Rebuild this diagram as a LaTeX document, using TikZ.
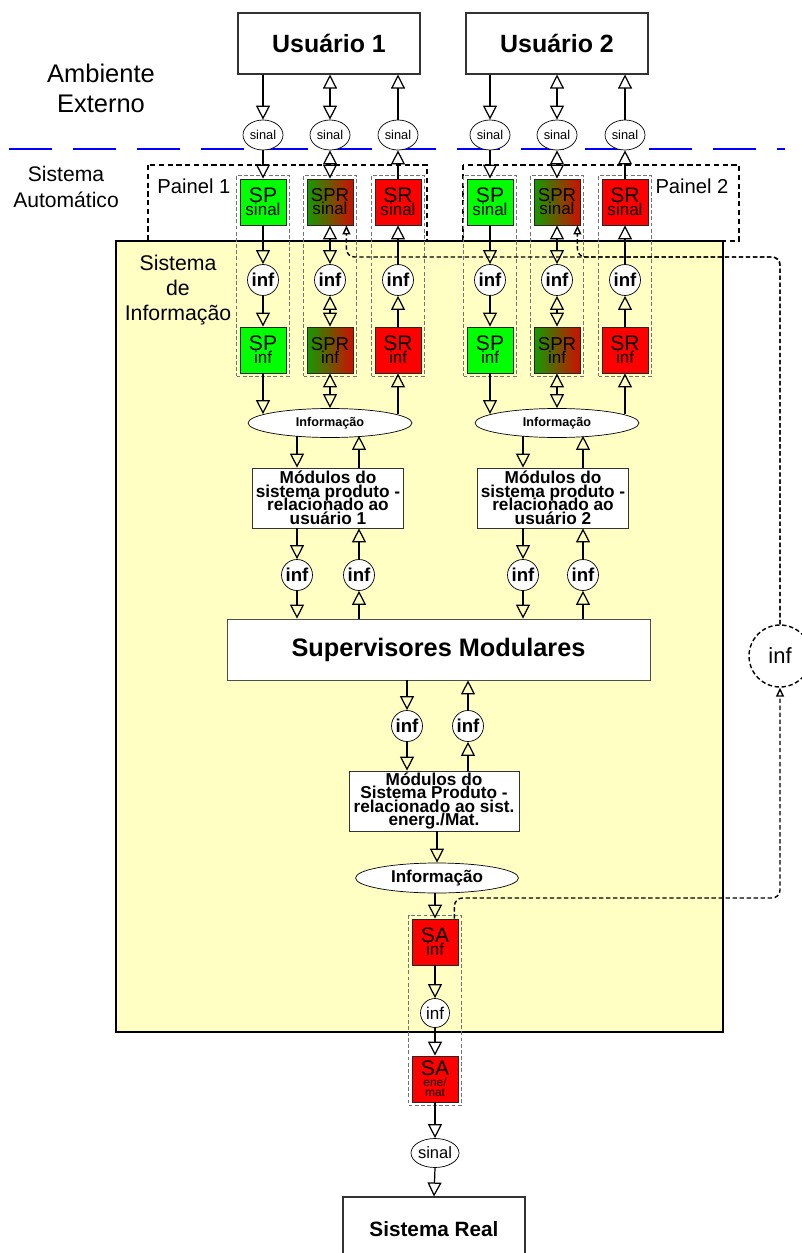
\documentclass[tikz,border=0pt]{standalone}
\usepackage{fontspec}
\setmainfont{Liberation Sans}
\usepackage{tikz}
\usetikzlibrary{arrows.meta, shapes.geometric, fit, calc}
\definecolor{SigGreen} {RGB}{0,  255,   0}
\definecolor{SigRed}   {RGB}{255,  0,   0}
\definecolor{MixGreen} {RGB}{20, 155,   0}
\definecolor{MixRed}   {RGB}{205, 15,   0}
\definecolor{InfoYellow}{RGB}{255,255,195}
\definecolor{LineBlue} {RGB}{0,    0, 255}

\newcommand{\sqlabel}[2]{#1\\{\fontsize{9.7}{7.4}\selectfont #2}}
\newcommand{\tightlines}{\lineskiplimit=-10pt\relax}

\tikzset{
  conn/.style={line width=0.7pt},
  user/.style={draw=black!80, line width=0.6pt, fill=white, minimum width=3.64cm,
    minimum height=1.22cm, inner sep=0pt, font=\fontsize{14.2}{16}\selectfont\bfseries},
  sig/.style={draw, ellipse, fill=white, inner sep=0pt, minimum width=0.8cm,
    minimum height=0.6cm, font=\fontsize{7.3}{8}\selectfont},
  sq/.style={draw=black!85, line width=0.5pt, minimum width=0.92cm, minimum height=0.92cm,
    inner sep=0pt, align=center, font=\fontsize{12}{7.4}\selectfont},
  sqmix/.style={sq, left color=MixGreen, right color=MixRed, font=\fontsize{10.6}{7.4}\selectfont},
  infb/.style={draw, circle, fill=white, minimum size=0.62cm, inner sep=0pt,
    font=\fontsize{10.6}{11}\selectfont\bfseries},
  infoel/.style={draw, ellipse, fill=white, inner sep=0pt, minimum width=3.28cm,
    minimum height=0.58cm, font=\fontsize{7.2}{8}\selectfont\bfseries},
  module/.style={draw=black!80, fill=white, minimum width=3.02cm, minimum height=1.2cm,
    inner sep=0pt, align=center, font=\fontsize{9.8}{7.7}\selectfont\bfseries\tightlines},
  colbox/.style={draw=black!55, line width=0.6pt, dash pattern=on 2.2pt off 1.3pt, inner sep=0.06cm},
  panel/.style={line width=0.8pt, dash pattern=on 3pt off 2pt},
  feedback/.style={line width=0.8pt, dash pattern=on 2.5pt off 1.5pt, rounded corners=0.16cm,
    -{Triangle[open, length=0.18cm, width=0.16cm]}},
  lbl/.style={inner sep=0pt, align=center}
}

\begin{document}
\begin{tikzpicture}[x=0.02cm, y=-0.02cm, >={Triangle[open, length=0.28cm, width=0.28cm]}]
  \useasboundingbox (0,0) rectangle (801,1253);

  % sistema de informacao
  \draw[fill=InfoYellow, line width=0.7pt] (116,241) rectangle (723,1032);
  \node[lbl, font=\fontsize{12.1}{14.2}\selectfont] (infLbl) at (178,290) {Sistema\\de\\Informação};

  % fronteira externa
  \draw[LineBlue, line width=1.7pt, dash pattern=on 0.86cm off 0.42cm] (9,149) -- (785,149);
  \node[lbl, font=\fontsize{14.5}{17}\selectfont] (ambLbl) at (101,88) {Ambiente\\Externo};
  \node[lbl, font=\fontsize{12}{14.7}\selectfont] (autoLbl) at (66,187) {Sistema\\Automático};

  % paineis
  \draw[panel] (148,165) rectangle (427,241);
  \draw[panel] (463,165) rectangle (739,241);
  \node[lbl, font=\fontsize{11.5}{13}\selectfont] (pnl1) at (194,186) {Painel 1};
  \node[lbl, font=\fontsize{11.5}{13}\selectfont] (pnl2) at (692,186) {Painel 2};

  % usuarios
  \node[user] (u1) at (329,43.5) {Usuário 1};
  \node[user] (u2) at (557,43.5) {Usuário 2};

  \node[sig] (s1a) at (263,135) {sinal};
  \node[sig] (s1b) at (330,135) {sinal};
  \node[sig] (s1c) at (398,135) {sinal};
  \node[sig] (s2a) at (490,135) {sinal};
  \node[sig] (s2b) at (557,135) {sinal};
  \node[sig] (s2c) at (625,135) {sinal};

  \node[sq, fill=SigGreen] (sp1s) at (263,202) {\sqlabel{SP}{sinal}};
  \node[sqmix] (spr1s) at (330,202) {\sqlabel{SPR}{sinal}};
  \node[sq, fill=SigRed] (sr1s) at (398,202) {\sqlabel{SR}{sinal}};
  \node[sq, fill=SigGreen] (sp2s) at (490,202) {\sqlabel{SP}{sinal}};
  \node[sqmix] (spr2s) at (557,202) {\sqlabel{SPR}{sinal}};
  \node[sq, fill=SigRed] (sr2s) at (625,202) {\sqlabel{SR}{sinal}};

  \node[infb] (i1a) at (263,280) {inf};
  \node[infb] (i1b) at (330,280) {inf};
  \node[infb] (i1c) at (398,280) {inf};
  \node[infb] (i2a) at (490,280) {inf};
  \node[infb] (i2b) at (557,280) {inf};
  \node[infb] (i2c) at (625,280) {inf};

  \node[sq, fill=SigGreen] (sp1i) at (263,350) {\sqlabel{SP}{inf}};
  \node[sqmix] (spr1i) at (330,350) {\sqlabel{SPR}{inf}};
  \node[sq, fill=SigRed] (sr1i) at (398,350) {\sqlabel{SR}{inf}};
  \node[sq, fill=SigGreen] (sp2i) at (490,350) {\sqlabel{SP}{inf}};
  \node[sqmix] (spr2i) at (557,350) {\sqlabel{SPR}{inf}};
  \node[sq, fill=SigRed] (sr2i) at (625,350) {\sqlabel{SR}{inf}};

  \node[colbox, fit=(sp1s)(sp1i)] (c1a) {};
  \node[colbox, fit=(spr1s)(spr1i)] (c1b) {};
  \node[colbox, fit=(sr1s)(sr1i)] (c1c) {};
  \node[colbox, fit=(sp2s)(sp2i)] (c2a) {};
  \node[colbox, fit=(spr2s)(spr2i)] (c2b) {};
  \node[colbox, fit=(sr2s)(sr2i)] (c2c) {};

  \node[infoel] (info1) at (330,423) {Informação};
  \node[infoel] (info2) at (557,423) {Informação};

  \node[module] (mod1) at (328,498) {Módulos do\\sistema produto -\\relacionado ao\\usuário 1};
  \node[module] (mod2) at (553,498) {Módulos do\\sistema produto -\\relacionado ao\\usuário 2};

  \node[infb] (j1a) at (297,575) {inf};
  \node[infb] (j1b) at (359,575) {inf};
  \node[infb] (j2a) at (523,575) {inf};
  \node[infb] (j2b) at (583,575) {inf};

  \node[draw=black!70, fill=white, minimum width=8.46cm, minimum height=1.22cm,
    font=\fontsize{14.4}{16}\selectfont\bfseries] (sup) at (438.5,649.5) {Supervisores Modulares};

  \node[infb] (k1) at (407,726) {inf};
  \node[infb] (k2) at (468,726) {inf};

  \node[module, minimum width=3.4cm] (mod3) at (434,801)
    {Módulos do\\Sistema Produto -\\relacionado ao sist.\\energ./Mat.};
  \node[infoel, minimum width=3.26cm, minimum height=0.6cm,
    font=\fontsize{9.7}{10}\selectfont\bfseries] (info3) at (437,878) {Informação};

  \node[sq, fill=SigRed] (sai) at (435,942) {\sqlabel{SA}{inf}};
  \node[draw, circle, fill=white, minimum size=0.58cm, inner sep=0pt,
    font=\fontsize{9.7}{10}\selectfont] (infa) at (435,1013) {inf};
  \node[sq, fill=SigRed] (saem) at (435,1079)
    {SA\\[-1.2pt]{\fontsize{6.8}{5.5}\selectfont ene/}\\[-1.7pt]{\fontsize{6.8}{5.5}\selectfont mat}};
  \node[colbox, fit=(sai)(saem)] (c3) {};
  \node[sig, minimum width=0.88cm, minimum height=0.58cm,
    font=\fontsize{9.4}{10}\selectfont] (sinr) at (435,1153) {sinal};
  \node[user, font=\fontsize{11.8}{13}\selectfont\bfseries, minimum height=1.28cm] (real)
    at (434,1229) {Sistema Real};

  \node[draw, circle, line width=0.8pt, dash pattern=on 2.5pt off 1.5pt, fill=white,
    minimum size=1.24cm, inner sep=0pt, font=\fontsize{12.5}{13}\selectfont] (infx) at (780,656) {inf};

  % usuario 1
  \draw[conn,->] (u1.south -| s1a) -- (s1a.north);
  \draw[conn,<->] (u1.south -| s1b) -- (s1b.north);
  \draw[conn,->] (s1c.north) -- (u1.south -| s1c);
  \draw[conn,->] (s1a.south) -- (sp1s.north);
  \draw[conn,<->] (s1b.south) -- (spr1s.north);
  \draw[conn,->] (sr1s.north) -- (s1c.south);
  \draw[conn,->] (sp1s.south) -- (i1a.north);
  \draw[conn,<->] (spr1s.south) -- (i1b.north);
  \draw[conn,->] (i1c.north) -- (sr1s.south);
  \draw[conn,->] (i1a.south) -- (sp1i.north);
  \draw[conn,<->] (i1b.south) -- (spr1i.north);
  \draw[conn,->] (sr1i.north) -- (i1c.south);
  \draw[conn,->] (sp1i.south) -- ($(info1.north -| sp1i)+(0,6)$);
  \draw[conn,<->] (spr1i.south) -- (info1.north);
  \draw[conn,->] ($(info1.north -| sr1i)+(0,6)$) -- (sr1i.south);
  \draw[conn,->] ($(info1.south -| j1a)+(0,-2)$) -- (mod1.north -| j1a);
  \draw[conn,->] (mod1.north -| j1b) -- ($(info1.south -| j1b)+(0,-2)$);
  \draw[conn,->] (mod1.south -| j1a) -- (j1a.north);
  \draw[conn,->] (j1b.north) -- (mod1.south -| j1b);
  \draw[conn,->] (j1a.south) -- (sup.north -| j1a);
  \draw[conn,->] (sup.north -| j1b) -- (j1b.south);

  % usuario 2
  \draw[conn,->] (u2.south -| s2a) -- (s2a.north);
  \draw[conn,<->] (u2.south -| s2b) -- (s2b.north);
  \draw[conn,->] (s2c.north) -- (u2.south -| s2c);
  \draw[conn,->] (s2a.south) -- (sp2s.north);
  \draw[conn,<->] (s2b.south) -- (spr2s.north);
  \draw[conn,->] (sr2s.north) -- (s2c.south);
  \draw[conn,->] (sp2s.south) -- (i2a.north);
  \draw[conn,<->] (spr2s.south) -- (i2b.north);
  \draw[conn,->] (i2c.north) -- (sr2s.south);
  \draw[conn,->] (i2a.south) -- (sp2i.north);
  \draw[conn,<->] (i2b.south) -- (spr2i.north);
  \draw[conn,->] (sr2i.north) -- (i2c.south);
  \draw[conn,->] (sp2i.south) -- ($(info2.north -| sp2i)+(0,6)$);
  \draw[conn,<->] (spr2i.south) -- (info2.north);
  \draw[conn,->] ($(info2.north -| sr2i)+(0,6)$) -- (sr2i.south);
  \draw[conn,->] ($(info2.south -| j2a)+(0,-2)$) -- (mod2.north -| j2a);
  \draw[conn,->] (mod2.north -| j2b) -- ($(info2.south -| j2b)+(0,-2)$);
  \draw[conn,->] (mod2.south -| j2a) -- (j2a.north);
  \draw[conn,->] (j2b.north) -- (mod2.south -| j2b);
  \draw[conn,->] (j2a.south) -- (sup.north -| j2a);
  \draw[conn,->] (sup.north -| j2b) -- (j2b.south);

  % sistema energia / material
  \draw[conn,->] (sup.south -| k1) -- (k1.north);
  \draw[conn,->] (k2.north) -- (sup.south -| k2);
  \draw[conn,->] (k1.south) -- (mod3.north -| k1);
  \draw[conn,->] (mod3.north -| k2) -- (k2.south);
  \draw[conn,->] (mod3.south -| info3) -- (info3.north);
  \draw[conn,->] (info3.south -| sai) -- (sai.north);
  \draw[conn,->] (sai.south) -- (infa.north);
  \draw[conn,->] (infa.south) -- (saem.north);
  \draw[conn,->] (saem.south) -- (sinr.north);
  \draw[conn,->] (sinr.south) -- (real.north);

  % retorno
  \coordinate (fbA) at (780,898);
  \coordinate (fbB) at (780,257);
  \draw[feedback] ([xshift=-0.08cm]sai.north east) |- (fbA) -- (infx.south);
  \draw[feedback] (infx.north) -- (fbB) -| ([xshift=-0.14cm]spr1s.south east);
  \draw[feedback] (infx.north) -- (fbB) -| ([xshift=-0.06cm]spr2s.south east);
\end{tikzpicture}
\end{document}
